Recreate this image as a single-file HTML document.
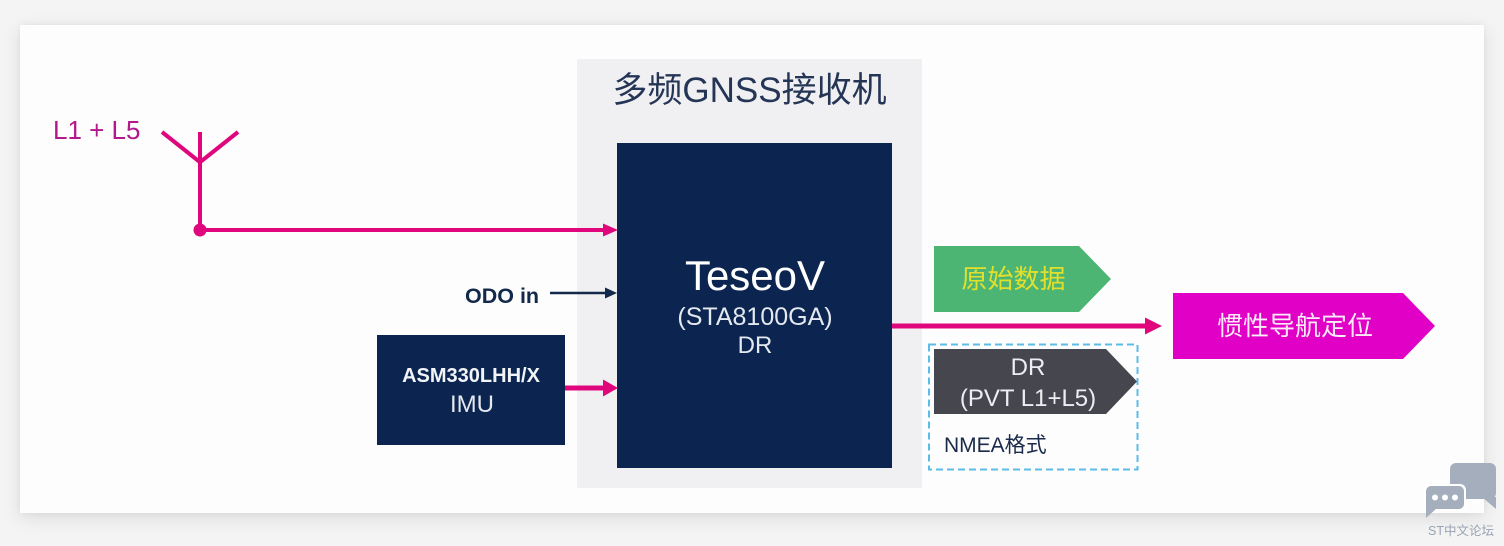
<!DOCTYPE html>
<html>
<head>
<meta charset="utf-8">
<style>
  html,body{margin:0;padding:0;}
  body{width:1504px;height:546px;background:#f4f4f4;position:relative;overflow:hidden;
       font-family:"Liberation Sans","Noto Sans CJK SC",sans-serif;}
  .card{position:absolute;left:20px;top:25px;width:1464px;height:488px;background:#fdfdfd;
        box-shadow:0 5px 18px rgba(0,0,0,0.10), 0 0 6px rgba(0,0,0,0.05);}
  svg{position:absolute;left:0;top:0;}
</style>
</head>
<body>
<div class="card"></div>
<svg width="1504" height="546" viewBox="0 0 1504 546" xmlns="http://www.w3.org/2000/svg">
  <!-- gray receiver box -->
  <rect x="577" y="59" width="345" height="429" fill="#f0f0f2"/>
  <text x="749.5" y="102" text-anchor="middle" font-size="35" fill="#243556"
        font-family="'Liberation Sans','Noto Sans CJK SC',sans-serif">多频GNSS接收机</text>

  <!-- navy chip -->
  <rect x="617" y="143" width="275" height="325" fill="#0b2550"/>
  <text x="755" y="290" text-anchor="middle" font-size="42" fill="#ffffff">TeseoV</text>
  <text x="755" y="325" text-anchor="middle" font-size="25" fill="#e4e8ef">(STA8100GA)</text>
  <text x="755" y="353" text-anchor="middle" font-size="24" fill="#e4e8ef">DR</text>

  <!-- antenna -->
  <text x="53" y="139" font-size="26" fill="#b3188a">L1 + L5</text>
  <g stroke="#e0077d" stroke-width="4" fill="none" stroke-linecap="butt">
    <line x1="162" y1="132" x2="201" y2="163"/>
    <line x1="238" y1="132" x2="199" y2="163"/>
    <line x1="200" y1="132" x2="200" y2="230"/>
    <line x1="200" y1="230" x2="606" y2="230"/>
  </g>
  <circle cx="200" cy="230" r="6.5" fill="#e0077d"/>
  <polygon points="603,223.5 618,230 603,236.5" fill="#e0077d"/>

  <!-- ODO in -->
  <text x="465" y="303" font-size="21.5" font-weight="bold" fill="#13294b">ODO in</text>
  <line x1="550" y1="293" x2="608" y2="293" stroke="#13294b" stroke-width="2.5"/>
  <polygon points="605,287.5 617,293 605,298.5" fill="#13294b"/>

  <!-- IMU -->
  <rect x="377" y="335" width="188" height="110" fill="#0b2550"/>
  <text x="471" y="382" text-anchor="middle" font-size="20" font-weight="bold" fill="#f2f4f8">ASM330LHH/X</text>
  <text x="472" y="412" text-anchor="middle" font-size="24" fill="#e4e8ef">IMU</text>
  <line x1="565" y1="388" x2="605" y2="388" stroke="#e0077d" stroke-width="5"/>
  <polygon points="603,379.5 618,388 603,396.5" fill="#e0077d"/>

  <!-- output line -->
  <line x1="892" y1="326" x2="1147" y2="326" stroke="#e0077d" stroke-width="5"/>
  <polygon points="1145,317.5 1162,326 1145,334.5" fill="#e0077d"/>

  <!-- green raw data -->
  <polygon points="934,246 1079,246 1111,279 1079,312 934,312" fill="#4cb573"/>
  <text x="1013.5" y="288" text-anchor="middle" font-size="26" fill="#e2e02c"
        font-family="'Liberation Sans','Noto Sans CJK SC',sans-serif">原始数据</text>

  <!-- pink inertial navigation -->
  <polygon points="1173,293 1403,293 1435,326 1403,359 1173,359" fill="#e000c6"/>
  <text x="1295" y="335" text-anchor="middle" font-size="26" fill="#fbeaf8"
        font-family="'Liberation Sans','Noto Sans CJK SC',sans-serif">惯性导航定位</text>

  <!-- dashed box -->
  <rect x="929" y="344.5" width="208.5" height="125" fill="none" stroke="#5bbde6" stroke-width="2" stroke-dasharray="7,4"/>
  <polygon points="934,349 1106,349 1137,381.5 1106,414 934,414" fill="#46464f"/>
  <text x="1028" y="375" text-anchor="middle" font-size="24" fill="#eeeef2">DR</text>
  <text x="1028" y="406" text-anchor="middle" font-size="24" fill="#eeeef2">(PVT L1+L5)</text>
  <text x="944" y="452" font-size="21" fill="#1a2a4a"
        font-family="'Liberation Sans','Noto Sans CJK SC',sans-serif">NMEA格式</text>

  <!-- logo -->
  <g fill="#a4aebd">
    <rect x="1450" y="463" width="46" height="36" rx="6"/>
    <polygon points="1482,497 1496,497 1496,509"/>
  </g>
  <g>
    <rect x="1424" y="484" width="42" height="27" rx="6" fill="#ffffff"/>
    <rect x="1426" y="486" width="38" height="23" rx="5" fill="#a4aebd"/>
    <polygon points="1426,503 1437,508 1426,518" fill="#a4aebd"/>
    <circle cx="1435" cy="497.5" r="3" fill="#ffffff"/>
    <circle cx="1445" cy="497.5" r="3" fill="#ffffff"/>
    <circle cx="1455" cy="497.5" r="3" fill="#ffffff"/>
  </g>
  <text x="1428" y="535" font-size="12.5" fill="#9aa3b3"
        font-family="'Liberation Sans','Noto Sans CJK SC',sans-serif">ST中文论坛</text>
</svg>
</body>
</html>
